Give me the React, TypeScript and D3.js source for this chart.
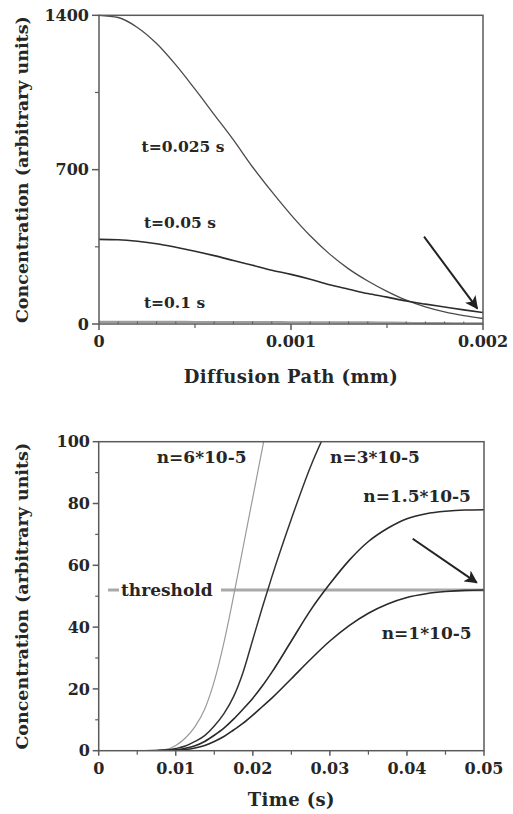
import React from 'react';
import * as d3 from 'd3';

// ---------- Top panel data: concentration vs diffusion path ----------
const pathMm = [0, 0.0001, 0.0002, 0.0003, 0.0004, 0.0005, 0.0006, 0.0007, 0.0008, 0.0009, 0.001,
  0.0011, 0.0012, 0.0013, 0.0014, 0.0015, 0.0016, 0.0017, 0.0018, 0.0019, 0.002];
const concT025 = [1400, 1390, 1345, 1272, 1175, 1065, 950, 835, 712, 600, 495,
  400, 318, 250, 195, 148, 108, 78, 55, 38, 25];
const concT05 = [384, 382, 375, 364, 348, 330, 310, 288, 266, 244, 225,
  203, 178, 158, 138, 122, 104, 90, 77, 64, 52];
const concT1 = [10, 10, 10, 10, 10, 9, 9, 9, 9, 9, 8, 8, 8, 7, 7, 6, 5, 4, 4, 3, 3];
const topYTicks = [0, 700, 1400];
const topYMinor = [350, 1050];
const topXTicks = [0, 0.001, 0.002];
const topXTickLabels = ['0', '0.001', '0.002'];
const topXMid = [0.0005, 0.0015];
const topLabels = ['t=0.025 s', 't=0.05 s', 't=0.1 s'];
const topLabelX = [0.000222, 0.000234, 0.000234];
const topLabelY = [781, 434, 71];
const topArrow = [[0.001693, 396], [0.00197, 71]];

// ---------- Bottom panel data: concentration vs time ----------
const timeS = [0, 0.0025, 0.005, 0.0075, 0.00875, 0.01, 0.01125, 0.0125, 0.01375, 0.015, 0.01625,
  0.0175, 0.01875, 0.02, 0.02125, 0.0225, 0.025, 0.0275, 0.03, 0.0325, 0.035, 0.0375, 0.04,
  0.0425, 0.045, 0.0475, 0.05];
const concN6 = [0, 0, 0, 0.1, 0.4, 1.7, 4.1, 7.8, 13.4, 22.5, 35, 50, 66, 82, 98, 114,
  null, null, null, null, null, null, null, null, null, null, null];
const concN3 = [0, 0, 0, 0.05, 0.2, 0.7, 1.5, 3.0, 4.9, 8.0, 12, 17.5, 25.5, 36, 46.5, 56.5, 75, 92, 106,
  null, null, null, null, null, null, null, null];
const concN15 = [0, 0, 0, 0, 0.1, 0.3, 0.8, 1.6, 3.0, 5.0, 7.3, 10.2, 13.5, 17, 21, 25.5, 35.5,
  45.5, 54, 61.6, 67.7, 72, 75.1, 76.7, 77.5, 77.9, 78];
const concN1 = [0, 0, 0, 0, 0.05, 0.2, 0.4, 0.9, 1.7, 3.0, 4.6, 6.7, 8.9, 11.5, 14.3, 17.1, 23.3,
  29.6, 35.5, 40.5, 44.5, 47.5, 49.6, 50.8, 51.5, 51.9, 52];
const thresholdValue = 52;
const bottomYTicks = [0, 20, 40, 60, 80, 100];
const bottomYMinor = [10, 30, 50, 70, 90];
const bottomXTicks = [0, 0.01, 0.02, 0.03, 0.04, 0.05];
const bottomXTickLabels = ['0', '0.01', '0.02', '0.03', '0.04', '0.05'];
const bottomXMinor = [0.005, 0.015, 0.025, 0.035, 0.045];
const bottomLabels = ['n=6*10-5', 'n=3*10-5', 'n=1.5*10-5', 'n=1*10-5'];
const bottomLabelX = [0.00753, 0.03002, 0.03434, 0.03673];
const bottomLabelY = [93, 93, 80.6, 36.05];
const bottomArrow = [[0.04075, 68.6], [0.04905, 54.4]];

const FONT = "'DejaVu Serif', 'Liberation Serif', serif";
const INK = '#262626';
const AXIS = '#5a5a5a';

export default function App() {
  // scales
  const xT = d3.scaleLinear().domain([0, 0.002]).range([99, 483]);
  const yT = d3.scaleLinear().domain([0, 1400]).range([324, 15.3]);
  const xB = d3.scaleLinear().domain([0, 0.05]).range([98.7, 484]);
  const yB = d3.scaleLinear().domain([0, 100]).range([750.7, 441.7]);

  const lineT = (vals: number[]) =>
    d3.line<number>().x((_, i) => xT(pathMm[i])).y((d) => yT(d)).curve(d3.curveMonotoneX)(vals) || '';
  const lineB = (vals: (number | null)[]) =>
    d3.line<number | null>()
      .defined((d) => d !== null)
      .x((_, i) => xB(timeS[i]))
      .y((d) => yB(d as number))
      .curve(d3.curveMonotoneX)(vals) || '';

  const topTinyTicks = d3.range(1, 20).map((i) => i * 0.0001).filter((v) => Math.abs(v - 0.001) > 1e-9 && Math.abs(v - 0.0005) > 1e-9 && Math.abs(v - 0.0015) > 1e-9);

  const tickFont = { fontFamily: FONT, fontWeight: 700, fontSize: 16, fill: INK } as const;
  const labelFont = { fontFamily: FONT, fontWeight: 700, fill: INK } as const;

  const [tx0, tx1] = [xT.range()[0], xT.range()[1]];
  const [ty0, ty1] = [yT.range()[0], yT.range()[1]];
  const [bx0, bx1] = [xB.range()[0], xB.range()[1]];
  const [by0, by1] = [yB.range()[0], yB.range()[1]];

  return (
    <svg
      width={513}
      height={814}
      style={{ position: 'absolute', left: 0, top: 0, background: '#fff' }}
    >
      <defs>
        <clipPath id="clipB">
          <rect x={bx0} y={by1} width={bx1 - bx0} height={by0 - by1} />
        </clipPath>
        <marker id="arrowHead" viewBox="0 0 10 10" refX="9" refY="5" markerWidth="6.5" markerHeight="6.5" orient="auto">
          <path d="M0,0 L10,5 L0,10 L2.5,5 Z" fill="#222" />
        </marker>
      </defs>
      <rect x={0} y={0} width={513} height={814} fill="#fff" />

      {/* ================= TOP PANEL ================= */}
      <g>
        {/* curves */}
        <path d={lineT(concT1)} fill="none" stroke="#9c9c9c" strokeWidth={2.2} />
        <path d={lineT(concT025)} fill="none" stroke="#4a4a4a" strokeWidth={1.3} />
        <path d={lineT(concT05)} fill="none" stroke="#2c2c2c" strokeWidth={1.6} />

        {/* frame */}
        <rect x={tx0} y={ty1} width={tx1 - tx0} height={ty0 - ty1} fill="none" stroke={AXIS} strokeWidth={1.5} />

        {/* y ticks */}
        {topYTicks.map((v, i) => (
          <g key={'tyt' + i}>
            <line x1={tx0 - 7} x2={tx0} y1={yT(v)} y2={yT(v)} stroke={AXIS} strokeWidth={1.5} />
            <text x={89} y={yT(v)} dy="0.36em" textAnchor="end" style={tickFont}>{v}</text>
          </g>
        ))}
        {topYMinor.map((v, i) => (
          <line key={'tym' + i} x1={tx0 - 4} x2={tx0} y1={yT(v)} y2={yT(v)} stroke={AXIS} strokeWidth={1.2} />
        ))}
        {/* x ticks */}
        {topXTicks.map((v, i) => (
          <g key={'txt' + i}>
            <line x1={xT(v)} x2={xT(v)} y1={ty0} y2={ty0 + 6} stroke={AXIS} strokeWidth={1.5} />
            <text x={xT(v)} y={ty0 + 23} textAnchor="middle" style={tickFont}>{topXTickLabels[i]}</text>
          </g>
        ))}
        {topXMid.map((v, i) => (
          <line key={'txm' + i} x1={xT(v)} x2={xT(v)} y1={ty0} y2={ty0 + 4} stroke={AXIS} strokeWidth={1.2} />
        ))}
        {topTinyTicks.map((v, i) => (
          <line key={'txs' + i} x1={xT(v)} x2={xT(v)} y1={ty0 - 2.5} y2={ty0} stroke={AXIS} strokeWidth={1} />
        ))}

        {/* labels */}
        {topLabels.map((t, i) => (
          <text key={'tl' + i} x={xT(topLabelX[i])} y={yT(topLabelY[i])} style={{ ...labelFont, fontSize: 15.5 }}>{t}</text>
        ))}
        <line
          x1={xT(topArrow[0][0])} y1={yT(topArrow[0][1])}
          x2={xT(topArrow[1][0])} y2={yT(topArrow[1][1])}
          stroke="#222" strokeWidth={2} markerEnd="url(#arrowHead)"
        />

        {/* axis titles */}
        <text x={(tx0 + tx1) / 2} y={383} textAnchor="middle" style={{ ...labelFont, fontSize: 18, letterSpacing: 0.4 }}>Diffusion Path (mm)</text>
        <text transform={`translate(28,${(ty0 + ty1) / 2}) rotate(-90)`} textAnchor="middle" style={{ ...labelFont, fontSize: 17.5 }}>Concentration (arbitrary units)</text>
      </g>

      {/* ================= BOTTOM PANEL ================= */}
      <g>
        {/* threshold */}
        <line x1={xB(0.0012)} x2={bx1} y1={yB(thresholdValue)} y2={yB(thresholdValue)} stroke="#a9a9a9" strokeWidth={3.2} />
        <rect x={119} y={yB(thresholdValue) - 12} width={102} height={22} fill="#fff" />
        <text x={121} y={yB(thresholdValue)} dy="0.36em" style={{ ...labelFont, fontSize: 17 }}>threshold</text>

        {/* curves */}
        <g clipPath="url(#clipB)">
          <path d={lineB(concN6)} fill="none" stroke="#9a9a9a" strokeWidth={1.2} />
          <path d={lineB(concN3)} fill="none" stroke="#333" strokeWidth={1.5} />
          <path d={lineB(concN15)} fill="none" stroke="#2a2a2a" strokeWidth={1.6} />
          <path d={lineB(concN1)} fill="none" stroke="#2a2a2a" strokeWidth={1.6} />
        </g>

        {/* frame */}
        <rect x={bx0} y={by1} width={bx1 - bx0} height={by0 - by1} fill="none" stroke={AXIS} strokeWidth={1.5} />

        {/* y ticks */}
        {bottomYTicks.map((v, i) => (
          <g key={'byt' + i}>
            <line x1={bx0 - 6} x2={bx0} y1={yB(v)} y2={yB(v)} stroke={AXIS} strokeWidth={1.5} />
            <text x={90} y={yB(v)} dy="0.36em" textAnchor="end" style={tickFont}>{v}</text>
          </g>
        ))}
        {bottomYMinor.map((v, i) => (
          <line key={'bym' + i} x1={bx0 - 3.5} x2={bx0} y1={yB(v)} y2={yB(v)} stroke={AXIS} strokeWidth={1.2} />
        ))}
        {/* x ticks */}
        {bottomXTicks.map((v, i) => (
          <g key={'bxt' + i}>
            <line x1={xB(v)} x2={xB(v)} y1={by0} y2={by0 + 5} stroke={AXIS} strokeWidth={1.5} />
            <text x={xB(v)} y={by0 + 23} textAnchor="middle" style={tickFont}>{bottomXTickLabels[i]}</text>
          </g>
        ))}
        {bottomXMinor.map((v, i) => (
          <line key={'bxm' + i} x1={xB(v)} x2={xB(v)} y1={by0} y2={by0 + 4} stroke={AXIS} strokeWidth={1.2} />
        ))}

        {/* labels */}
        {bottomLabels.map((t, i) => (
          <text key={'bl' + i} x={xB(bottomLabelX[i])} y={yB(bottomLabelY[i])} style={{ ...labelFont, fontSize: 17 }}>{t}</text>
        ))}
        <line
          x1={xB(bottomArrow[0][0])} y1={yB(bottomArrow[0][1])}
          x2={xB(bottomArrow[1][0])} y2={yB(bottomArrow[1][1])}
          stroke="#222" strokeWidth={2} markerEnd="url(#arrowHead)"
        />

        {/* axis titles */}
        <text x={(bx0 + bx1) / 2} y={806} textAnchor="middle" style={{ ...labelFont, fontSize: 18, letterSpacing: 0.4 }}>Time (s)</text>
        <text transform={`translate(28,${(by0 + by1) / 2}) rotate(-90)`} textAnchor="middle" style={{ ...labelFont, fontSize: 17.5 }}>Concentration (arbitrary units)</text>
      </g>
    </svg>
  );
}
